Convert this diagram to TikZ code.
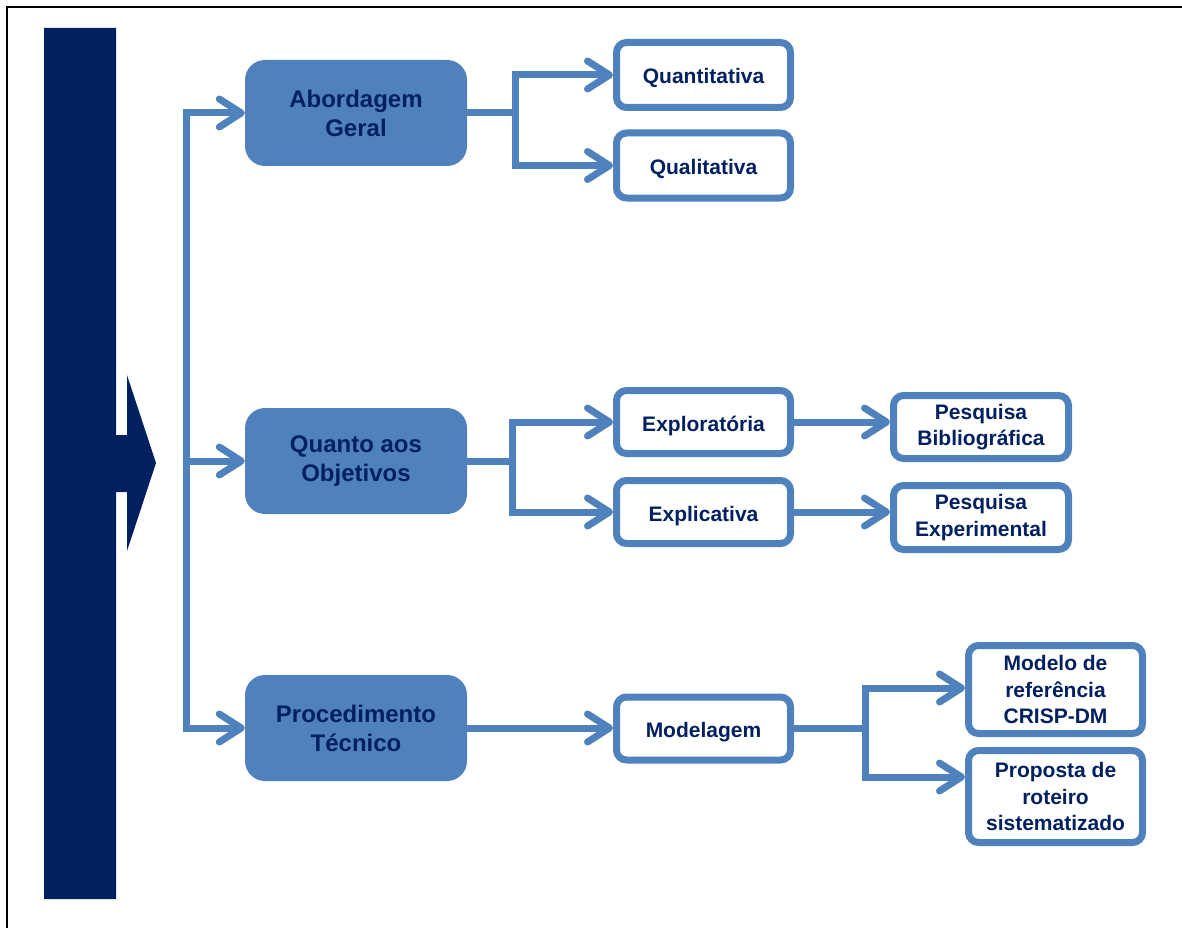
\documentclass[tikz,border=0pt]{standalone}
\usepackage{fontspec}
\setmainfont{Liberation Sans}
\usetikzlibrary{arrows.meta}
\definecolor{navy}{HTML}{002060}
\definecolor{blu}{HTML}{4F81BD}
\begin{document}
\begin{tikzpicture}[x=1pt,y=-1pt,
  conn/.style={draw=blu, line width=7pt, line join=miter},
  barb/.tip={Straight Barb[length=22pt,width=28pt,round]},
  mainbox/.style={fill=blu, rounded corners=20pt, inner sep=0pt,
    minimum width=222pt, minimum height=106pt, text=navy, align=center,
    font=\fontsize{24}{29}\selectfont\bfseries},
  subbox/.style={draw=blu, fill=white, line width=7pt, rounded corners=10pt,
    inner sep=0pt, minimum width=174pt, text=navy, align=center,
    font=\fontsize{21}{26.5}\selectfont\bfseries},
  oneline/.style={align=none, text height=18pt, text depth=0pt}]
\useasboundingbox (0,0) rectangle (1182,928);

% frame edges
\draw[black, line width=2.5pt] (7,928) -- (7,7) -- (1182,7);

% dark bar with arrow head
\fill[navy] (44,28) -- (116,28) -- (116,435) -- (127,435) -- (127,375)
  -- (156,463) -- (127,551) -- (127,492) -- (116,492) -- (116,899)
  -- (44,899) -- cycle;

% main categories
\node[mainbox] (m1) at (356,113) {Abordagem\\Geral};
\node[mainbox] (m2) at (356,461) {Quanto aos\\Objetivos};
\node[mainbox] (m3) at (356,728) {Procedimento\\Técnico};

% sub categories
\node[subbox, oneline, minimum height=65pt] (q1) at (703.5,75) {Quantitativa};
\node[subbox, oneline, minimum height=65pt] (q2) at (703.5,165.5) {Qualitativa};
\node[subbox, oneline, minimum height=63pt] (o1) at (703.5,422) {Exploratória};
\node[subbox, oneline, minimum height=63pt] (o2) at (703.5,512) {Explicativa};
\node[subbox, oneline, minimum height=63pt] (p0) at (703.5,728.5) {Modelagem};
\node[subbox, minimum height=63pt, minimum width=175pt] (b1) at (981,427) {Pesquisa\\Bibliográfica};
\node[subbox, minimum height=64pt, minimum width=175pt] (b2) at (981,517.5) {Pesquisa\\Experimental};
\node[subbox, minimum height=88pt] (r1) at (1055.5,689.5) {Modelo de\\referência\\CRISP-DM};
\node[subbox, minimum height=92pt] (r2) at (1055.5,796.5) {Proposta de\\roteiro\\sistematizado};

% branching points
\coordinate (trunk) at (186,0);
\coordinate (f1) at (515,0);
\coordinate (f2) at (512,0);
\coordinate (k1) at (865,688);
\coordinate (k2) at (865,777);

% trunk to main categories
\draw[conn, {barb}-{barb}] (m1.west) -- (trunk |- m1.west) -- (trunk |- m3.west) -- (m3.west);
\draw[conn, -{barb}] (trunk |- m2.west) -- (m2.west);

% Abordagem Geral
\draw[conn] (m1.east) -- (f1 |- m1.east);
\draw[conn, {barb}-{barb}] (q1.west) -- (f1 |- q1.west) -- (f1 |- q2.west) -- (q2.west);

% Quanto aos Objetivos
\draw[conn] (m2.east) -- (f2 |- m2.east);
\draw[conn, {barb}-{barb}] (o1.west) -- (f2 |- o1.west) -- (f2 |- o2.west) -- (o2.west);
\draw[conn, -{barb}] (o1.east) -- (o1.east -| b1.west);
\draw[conn, -{barb}] (o2.east) -- (o2.east -| b2.west);

% Procedimento Tecnico
\draw[conn, -{barb}] (m3.east) -- (m3.east -| p0.west);
\draw[conn] (p0.east) -- (k1 |- p0.east);
\draw[conn, {barb}-{barb}] (k1 -| r1.west) -- (k1) -- (k2) -- (k2 -| r2.west);
\end{tikzpicture}
\end{document}
